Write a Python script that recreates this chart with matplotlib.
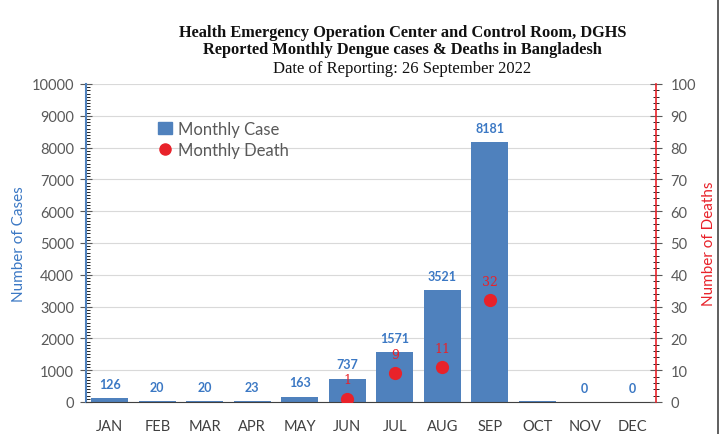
import matplotlib
matplotlib.use("Agg")
import matplotlib.pyplot as plt
from matplotlib.ticker import MultipleLocator
from matplotlib.lines import Line2D
from matplotlib.patches import Patch
import numpy as np

months = ["JAN", "FEB", "MAR", "APR", "MAY", "JUN", "JUL", "AUG", "SEP", "OCT", "NOV", "DEC"]
cases = [126, 20, 20, 23, 163, 737, 1571, 3521, 8181, 30, 0, 0]
case_labels = ["126", "20", "20", "23", "163", "737", "1571", "3521", "8181", "", "0", "0"]
deaths = [np.nan, np.nan, np.nan, np.nan, np.nan, 1, 9, 11, 32, np.nan, np.nan, np.nan]
death_labels = ["", "", "", "", "", "1", "9", "11", "32", "", "", ""]

title_lines = ["Health Emergency Operation Center and Control Room, DGHS",
               "Reported Monthly Dengue cases & Deaths in Bangladesh"]
subtitle = "Date of Reporting: 26 September 2022"

plt.rcParams['font.family'] = ['Lato', 'DejaVu Sans']

BLUE = "#4F81BD"
LBLUE = "#3B78C4"
RED = "#E8222A"
GRAY = "#595959"

fig = plt.figure(figsize=(7.25, 4.35), dpi=100)
ax = fig.add_axes([86/725, 32/435, 570/725, 318/435])
ax2 = ax.twinx()

x = np.arange(len(months))
ax.bar(x, cases, width=0.78, color=BLUE, zorder=2)
ax.set_xlim(-0.5, 11.5)
ax.set_ylim(0, 10000)
ax.yaxis.set_major_locator(MultipleLocator(1000))
ax.yaxis.set_minor_locator(MultipleLocator(100))
ax.grid(axis='y', color="#D9D9D9", linewidth=0.8, zorder=0)
ax.set_axisbelow(True)
ax.set_xticks(x)
ax.set_xticklabels(months, fontsize=10.5, color="#404040")
ax.tick_params(axis='x', length=0, pad=12)
ax.tick_params(axis='y', which='major', colors=GRAY, labelsize=10.5, length=9, direction='inout', pad=4)
ax.tick_params(axis='y', which='minor', length=3, direction='in')
for t in ax.yaxis.get_ticklines(minor=True) + ax.yaxis.get_ticklines():
    t.set_color(BLUE)
ax.spines['left'].set_color(BLUE)
ax.spines['left'].set_linewidth(1.5)
ax.spines['bottom'].set_color("#404040")
ax.spines['top'].set_visible(False)
ax.spines['right'].set_visible(False)
ax.set_ylabel("Number of Cases", color=LBLUE, fontsize=11, labelpad=4)

for xi, v, lab in zip(x, cases, case_labels):
    if lab:
        ax.annotate(lab, (xi, v), xytext=(0, 6), textcoords='offset points',
                    ha='center', va='bottom', color=LBLUE, fontsize=9, fontweight='bold')

ax2.set_ylim(0, 100)
ax2.plot(x, deaths, linestyle='none', marker='o', markersize=8.5, color=RED, zorder=3)
for xi, v, lab in zip(x, deaths, death_labels):
    if lab:
        ax2.annotate(lab, (xi, v), xytext=(0, 9), textcoords='offset points',
                     ha='center', va='bottom', color=RED, fontsize=9, family=['DejaVu Serif'])
ax2.yaxis.set_major_locator(MultipleLocator(10))
ax2.yaxis.set_minor_locator(MultipleLocator(2))
ax2.tick_params(axis='y', which='major', colors=GRAY, labelsize=10.5, length=9, direction='inout', pad=6)
ax2.tick_params(axis='y', which='minor', length=4, direction='inout')
for t in ax2.yaxis.get_ticklines(minor=True) + ax2.yaxis.get_ticklines():
    t.set_color(RED)
ax2.spines['right'].set_color(RED)
ax2.spines['right'].set_linewidth(1.2)
for s in ['left', 'top', 'bottom']:
    ax2.spines[s].set_visible(False)
ax2.set_ylabel("Number of Deaths", color=RED, fontsize=11, labelpad=4)

handles = [Patch(facecolor=BLUE, edgecolor=BLUE),
           Line2D([], [], linestyle='none', marker='o', markersize=8, color=RED)]
leg = ax.legend(handles, ["Monthly Case", "Monthly Death"], loc='upper left',
                bbox_to_anchor=(0.115, 0.905), frameon=False, fontsize=12,
                handlelength=0.8, handletextpad=0.4, labelspacing=0.3, borderaxespad=0)
for t in leg.get_texts():
    t.set_color(GRAY)

fig.text(0.555, 0.925, title_lines[0], ha='center', va='center', fontsize=11.8,
         fontweight='bold', family=['Liberation Serif'], color="#111111")
fig.text(0.555, 0.884, title_lines[1], ha='center', va='center', fontsize=11.8,
         fontweight='bold', family=['Liberation Serif'], color="#111111")
fig.text(0.555, 0.841, subtitle, ha='center', va='center', fontsize=12,
         family=['Liberation Serif'], color="#111111")

fig.add_artist(Line2D([718/725, 718/725], [0, 1], color="#444444", linewidth=1.2))

fig.savefig("out.png", dpi=100)
